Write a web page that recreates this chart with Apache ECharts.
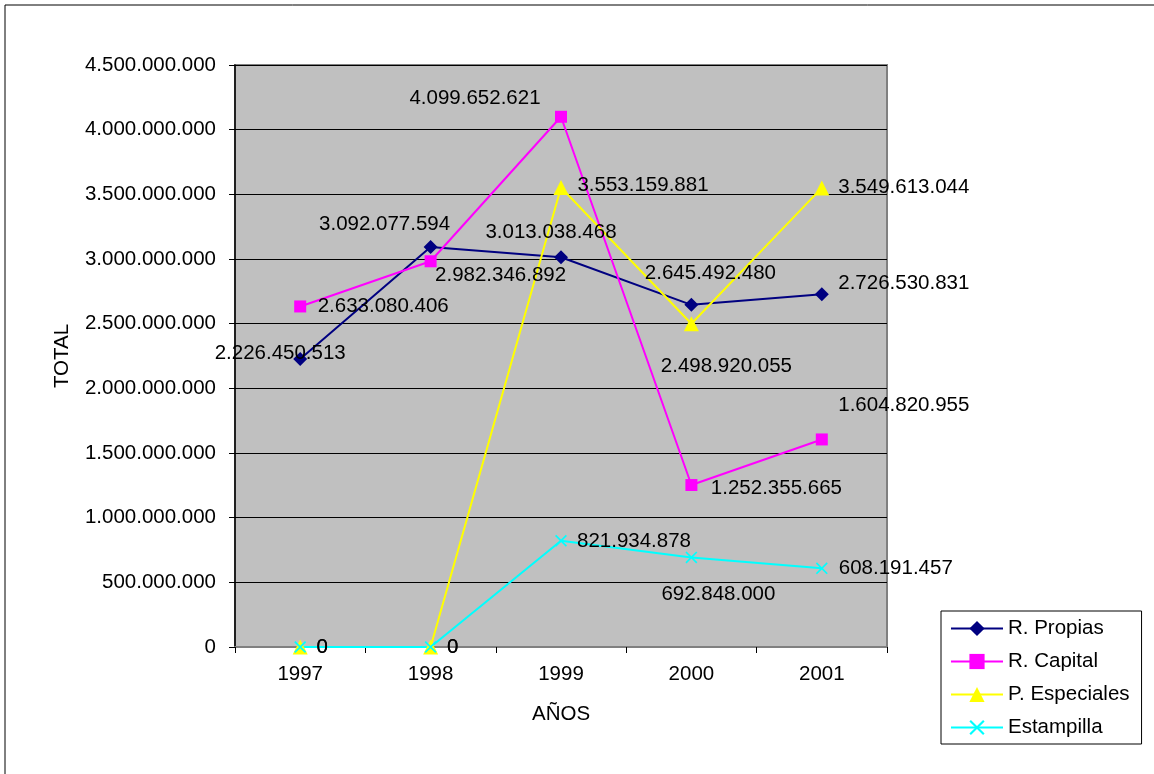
<!DOCTYPE html>
<html>
<head>
<meta charset="utf-8">
<script src="https://cdn.jsdelivr.net/npm/echarts@6/dist/echarts.min.js"></script>
<style>
  html, body { margin: 0; padding: 0; background: #ffffff; }
  #chart { width: 1154px; height: 774px; }
</style>
</head>
<body>
<div id="chart"></div>
<script>
// Categories and series values
const years = ['1997', '1998', '1999', '2000', '2001'];
const seriesNames = ['R. Propias', 'R. Capital', 'P. Especiales', 'Estampilla'];
const propias = [2226450513, 3092077594, 3013038468, 2645492480, 2726530831];
const capital = [2633080406, 2982346892, 4099652621, 1252355665, 1604820955];
const especiales = [0, 0, 3553159881, 2498920055, 3549613044];
const estampilla = [0, 0, 821934878, 692848000, 608191457];

// Value axis range
const yMin = 0;
const yMax = 4500000000;
const yStep = 500000000;

// Label placement (offset of each value label from its marker centre)
const propiasLabelOffsets = [[-20, -6], [-46, -23], [-10, -25], [19, -32], [82, -11]];
const capitalLabelOffsets = [[83, 0], [70, 14], [-86, -18], [85, 3], [82, -34]];
const especialesLabelOffsets = [[22, 0], [22, 0], [82, -2], [35, 43], [82, -1]];
const estampillaLabelOffsets = [[22, 0], [22, 0], [73, 1], [27, 37], [74, 0]];

const FONT = 'Liberation Sans, Arial, sans-serif';
const FS = 20.5;
const crossSymbol = 'path://M0,1L1,0L5,4L9,0L10,1L6,5L10,9L9,10L5,6L1,10L0,9L4,5Z';

function fmt(v) {
  return String(v).replace(/\B(?=(\d{3})+(?!\d))/g, '.');
}

function makeSeries(name, values, offsets, color, symbol, size) {
  return {
    name: name,
    type: 'line',
    data: values.map((v, i) => ({ value: v, label: { offset: offsets[i] } })),
    symbol: symbol,
    symbolSize: size,
    lineStyle: { color: color, width: 2 },
    itemStyle: { color: color },
    label: {
      show: true,
      position: 'inside',
      color: '#000',
      fontFamily: FONT,
      fontSize: FS,
      formatter: p => fmt(p.value)
    },
    emphasis: { disabled: true },
    animation: false
  };
}

const chart = echarts.init(document.getElementById('chart'), null, { renderer: 'canvas' });

chart.setOption({
  backgroundColor: '#ffffff',
  animation: false,
  textStyle: { fontFamily: FONT },
  graphic: [{
    type: 'rect',
    shape: { x: 5, y: 5, width: 1170, height: 800 },
    style: { fill: 'none', stroke: '#000', lineWidth: 1 },
    silent: true,
    z: -10
  }],
  grid: {
    left: 235, top: 65, width: 652, height: 582,
    show: true,
    backgroundColor: '#c0c0c0',
    borderColor: '#808080',
    borderWidth: 2
  },
  legend: {
    orient: 'vertical',
    left: 941, top: 611,
    padding: [7, 12, 6, 9],
    itemGap: 12,
    itemWidth: 52,
    itemHeight: 19,
    borderColor: '#000',
    borderWidth: 1,
    backgroundColor: '#fff',
    textStyle: { fontFamily: FONT, fontSize: FS, color: '#000' },
    data: seriesNames
  },
  xAxis: {
    type: 'category',
    data: years,
    boundaryGap: true,
    name: 'AÑOS',
    nameLocation: 'middle',
    nameGap: 57,
    nameTextStyle: { fontFamily: FONT, fontSize: FS, color: '#000' },
    axisLine: { lineStyle: { color: '#808080', width: 2 } },
    axisTick: { show: true, length: 6, alignWithLabel: false, lineStyle: { color: '#000' } },
    axisLabel: { fontFamily: FONT, fontSize: FS, color: '#000', margin: 17 },
    splitLine: { show: false }
  },
  yAxis: {
    type: 'value',
    min: yMin, max: yMax, interval: yStep,
    name: 'TOTAL',
    nameLocation: 'middle',
    nameGap: 162,
    nameRotate: 90,
    nameTextStyle: { fontFamily: FONT, fontSize: FS, color: '#000' },
    axisLine: { show: true, lineStyle: { color: '#000', width: 1.5 } },
    axisTick: { show: true, length: 6, lineStyle: { color: '#000' } },
    axisLabel: { fontFamily: FONT, fontSize: FS, color: '#000', margin: 19, formatter: v => fmt(v) },
    splitLine: { show: true, lineStyle: { color: '#000', width: 1 } }
  },
  series: [
    makeSeries(seriesNames[0], propias, propiasLabelOffsets, '#000080', 'diamond', 14),
    makeSeries(seriesNames[1], capital, capitalLabelOffsets, '#ff00ff', 'rect', 12),
    makeSeries(seriesNames[2], especiales, especialesLabelOffsets, '#ffff00', 'triangle', 15),
    makeSeries(seriesNames[3], estampilla, estampillaLabelOffsets, '#00ffff', crossSymbol, 12)
  ]
});
</script>
</body>
</html>
